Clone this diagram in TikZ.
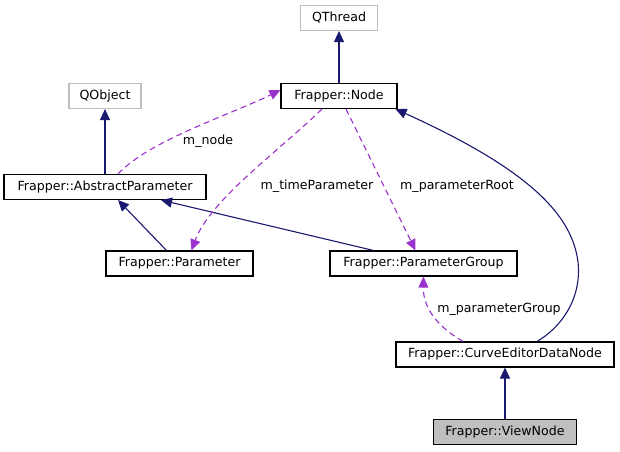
\documentclass[tikz,border=0pt]{standalone}
\usepackage{fontspec}
\setmainfont{DejaVu Sans}
\usetikzlibrary{arrows.meta}
\definecolor{navyc}{HTML}{191970}
\definecolor{purp}{HTML}{9A32CD}
\definecolor{grayb}{HTML}{BFBFBF}
\tikzset{
  box/.style={draw=black, line width=1.1pt, fill=white, minimum height=25pt, inner sep=0pt, font=\fontsize{12.6}{14}\selectfont},
  extbox/.style={box, draw=grayb},
  curbox/.style={box, fill=grayb},
  inh/.style={draw=navyc, line width=1.1pt, -{Triangle[length=11pt,width=10pt]}},
  use/.style={draw=purp, line width=1.1pt, dash pattern=on 6pt off 4pt, -{Triangle[length=11pt,width=10pt]}},
  lbl/.style={font=\fontsize{12.6}{14}\selectfont, inner sep=1pt}
}
\begin{document}
\begin{tikzpicture}[x=1pt,y=-1pt]
\useasboundingbox[fill=white] (0,0) rectangle (620,451);
\node[extbox, minimum width=77pt] (qthread) at (339,18) {QThread};
\node[box, minimum width=116pt] (node) at (339,96) {Frapper::Node};
\node[extbox, minimum width=72pt] (qobject) at (105,96) {QObject};
\node[box, minimum width=202pt] (abspar) at (105,187) {Frapper::AbstractParameter};
\node[box, minimum width=147pt] (par) at (179.5,263.5) {Frapper::Parameter};
\node[box, minimum width=187pt] (pgroup) at (423.5,263.5) {Frapper::ParameterGroup};
\node[box, minimum width=218pt] (cedn) at (505,354.5) {Frapper::CurveEditorDataNode};
\node[curbox, minimum width=143pt] (view) at (505,432) {Frapper::ViewNode};

% inheritance
\draw[inh] (node.north) -- (qthread.south);
\draw[inh] (abspar.north) -- (qobject.south);
\draw[inh] (view.north) -- (cedn.south);
\draw[inh] ([xshift=-13pt]par.north) -- ([xshift=13pt]abspar.south);
\draw[inh] ([xshift=-50pt]pgroup.north) -- ([xshift=56pt]abspar.south);
\draw[inh] ([xshift=32pt]cedn.north) .. controls (560,328) and (582,300) .. (578,262)
  .. controls (572,215) and (530,170) .. ([xshift=-2pt]node.south east);

% usage
\draw[use] ([xshift=13pt]abspar.north) .. controls (150,140) and (230,115) .. ([yshift=6pt]node.west);
\draw[use] ([xshift=-17pt]node.south) .. controls (280,150) and (210,200) .. ([xshift=12pt]par.north);
\draw[use] ([xshift=7pt]node.south) -- ([xshift=-8pt]pgroup.north);
\draw[use] ([xshift=-42pt]cedn.north) .. controls (440,328) and (423,310) .. (pgroup.south);

\node[lbl] (l1) at (208,141) {m\_node};
\node[lbl] (l2) at (317,186) {m\_timeParameter};
\node[lbl] (l3) at (457,186) {m\_parameterRoot};
\node[lbl] (l4) at (499,309) {m\_parameterGroup};
\end{tikzpicture}
\end{document}
